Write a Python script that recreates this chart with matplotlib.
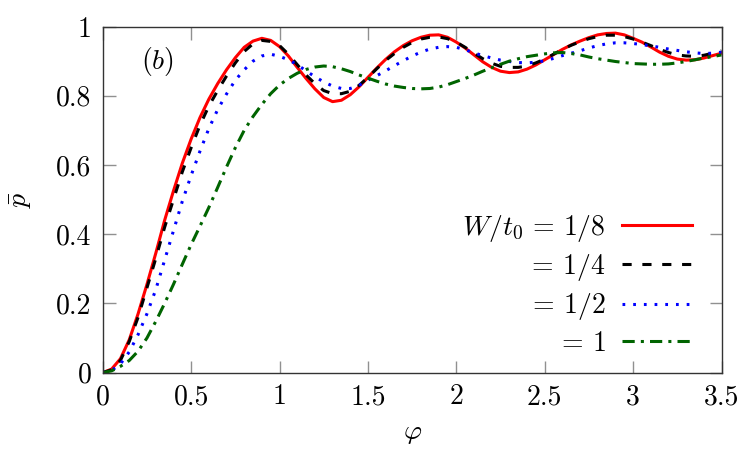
import matplotlib
matplotlib.use('Agg')
import matplotlib.pyplot as plt

plt.rcParams['mathtext.fontset'] = 'cm'
plt.rcParams['font.family'] = 'serif'
plt.rcParams['font.serif'] = ['cmr10']
plt.rcParams['axes.formatter.use_mathtext'] = True

# values, phi step 0.05
phi = [0.00, 0.05, 0.10, 0.15, 0.20, 0.25, 0.30, 0.35, 0.40, 0.45,
       0.50, 0.55, 0.60, 0.65, 0.70, 0.75, 0.80, 0.85, 0.90, 0.95,
       1.00, 1.05, 1.10, 1.15, 1.20, 1.25, 1.30, 1.35, 1.40, 1.45,
       1.50, 1.55, 1.60, 1.65, 1.70, 1.75, 1.80, 1.85, 1.90, 1.95,
       2.00, 2.05, 2.10, 2.15, 2.20, 2.25, 2.30, 2.35, 2.40, 2.45,
       2.50, 2.55, 2.60, 2.65, 2.70, 2.75, 2.80, 2.85, 2.90, 2.95,
       3.00, 3.05, 3.10, 3.15, 3.20, 3.25, 3.30, 3.35, 3.40, 3.45,
       3.50]

p_w18 = [0.0, 0.01, 0.04, 0.095, 0.17, 0.255, 0.345, 0.44, 0.525, 0.605,
         0.675, 0.737, 0.79, 0.835, 0.875, 0.91, 0.94, 0.958, 0.966, 0.96,
         0.942, 0.915, 0.882, 0.85, 0.82, 0.795, 0.783, 0.787, 0.803, 0.826,
         0.853, 0.88, 0.905, 0.927, 0.945, 0.959, 0.969, 0.975, 0.976, 0.969,
         0.955, 0.938, 0.918, 0.898, 0.882, 0.871, 0.867, 0.869, 0.877, 0.889,
         0.904, 0.919, 0.934, 0.947, 0.958, 0.968, 0.976, 0.98, 0.981, 0.976,
         0.966, 0.955, 0.941, 0.926, 0.914, 0.906, 0.903, 0.904, 0.909, 0.916,
         0.923]

p_w14 = [0.0, 0.008, 0.035, 0.09, 0.16, 0.245, 0.33, 0.42, 0.50, 0.58,
         0.65, 0.715, 0.77, 0.815, 0.857, 0.895, 0.928, 0.95, 0.96, 0.957,
         0.945, 0.92, 0.89, 0.86, 0.835, 0.815, 0.806, 0.806, 0.813, 0.83,
         0.853, 0.878, 0.902, 0.922, 0.94, 0.954, 0.964, 0.969, 0.97, 0.965,
         0.955, 0.94, 0.923, 0.907, 0.894, 0.885, 0.882, 0.882, 0.886, 0.895,
         0.906, 0.92, 0.934, 0.946, 0.956, 0.965, 0.971, 0.975, 0.975, 0.971,
         0.964, 0.955, 0.945, 0.934, 0.925, 0.918, 0.915, 0.914, 0.917, 0.923,
         0.93]

p_w12 = [0.0, 0.006, 0.025, 0.06, 0.11, 0.17, 0.24, 0.325, 0.41, 0.495,
         0.57, 0.64, 0.705, 0.76, 0.805, 0.845, 0.875, 0.90, 0.915, 0.92,
         0.914, 0.904, 0.89, 0.872, 0.855, 0.84, 0.828, 0.821, 0.821, 0.83,
         0.845, 0.858, 0.872, 0.887, 0.901, 0.915, 0.926, 0.935, 0.94, 0.942,
         0.94, 0.933, 0.924, 0.916, 0.909, 0.903, 0.899, 0.896, 0.895, 0.897,
         0.901, 0.908, 0.916, 0.923, 0.93, 0.938, 0.945, 0.95, 0.953, 0.953,
         0.951, 0.948, 0.944, 0.94, 0.935, 0.931, 0.927, 0.924, 0.922, 0.923,
         0.926]

p_w1 = [0.0, 0.005, 0.018, 0.035, 0.062, 0.10, 0.148, 0.20, 0.255, 0.313,
        0.37, 0.423, 0.477, 0.535, 0.594, 0.65, 0.70, 0.74, 0.775, 0.806,
        0.831, 0.85, 0.865, 0.876, 0.883, 0.886, 0.884, 0.878, 0.87, 0.86,
        0.851, 0.842, 0.834, 0.828, 0.824, 0.821, 0.82, 0.821, 0.825, 0.832,
        0.841, 0.85, 0.86, 0.871, 0.881, 0.891, 0.90, 0.907, 0.913, 0.917,
        0.921, 0.924, 0.925, 0.922, 0.918, 0.912, 0.907, 0.903, 0.899, 0.896,
        0.893, 0.892, 0.891, 0.891, 0.892, 0.895, 0.899, 0.904, 0.909, 0.913,
        0.918]

labels = [r'$W/t_0 \,=\, 1/8$', r'$=\, 1/4$', r'$=\, 1/2$', r'$=\, 1$']

xticks = [0, 0.5, 1, 1.5, 2, 2.5, 3, 3.5]
xticklabels = ['0', '0.5', '1', '1.5', '2', '2.5', '3', '3.5']
yticks = [0, 0.2, 0.4, 0.6, 0.8, 1]
yticklabels = ['0', '0.2', '0.4', '0.6', '0.8', '1']

fig = plt.figure(figsize=(7.5, 4.5), dpi=100)
ax = fig.add_axes([0.137, 0.172, 0.825, 0.769])

lw = 2.2
ax.plot(phi, p_w18, color='#ff0000', lw=lw, label=labels[0])
ax.plot(phi, p_w14, color='black', lw=lw, dashes=(3, 3.5), label=labels[1])
ax.plot(phi, p_w12, color='#0000ff', lw=lw, dashes=(0.9, 2.6), label=labels[2])
ax.plot(phi, p_w1, color='#006400', lw=lw, dashes=(4, 2, 1, 2), label=labels[3])

ax.set_xlim(0, 3.5)
ax.set_ylim(0, 1)
ax.set_xticks(xticks)
ax.set_xticklabels(xticklabels)
ax.set_yticks(yticks)
ax.set_yticklabels(yticklabels)
ax.tick_params(direction='in', length=9, width=1, color='#909090',
               top=True, right=True, labelsize=20, pad=8)
for s in ax.spines.values():
    s.set_color('#333333')
    s.set_linewidth(1)

ax.set_xlabel(r'$\varphi$', fontsize=20, labelpad=7)
ax.set_ylabel(r'$\bar{p}$', fontsize=20, labelpad=16)

ax.text(0.089, 0.898, r'$(b)$', transform=ax.transAxes, fontsize=20,
        ha='center', va='center')

ax.legend(loc='lower right', bbox_to_anchor=(0.952, 0.045), frameon=False,
          markerfirst=False, fontsize=20, handlelength=2.5,
          handletextpad=0.6, labelspacing=0.3, borderpad=0, borderaxespad=0)

fig.savefig('out.png', dpi=100)
